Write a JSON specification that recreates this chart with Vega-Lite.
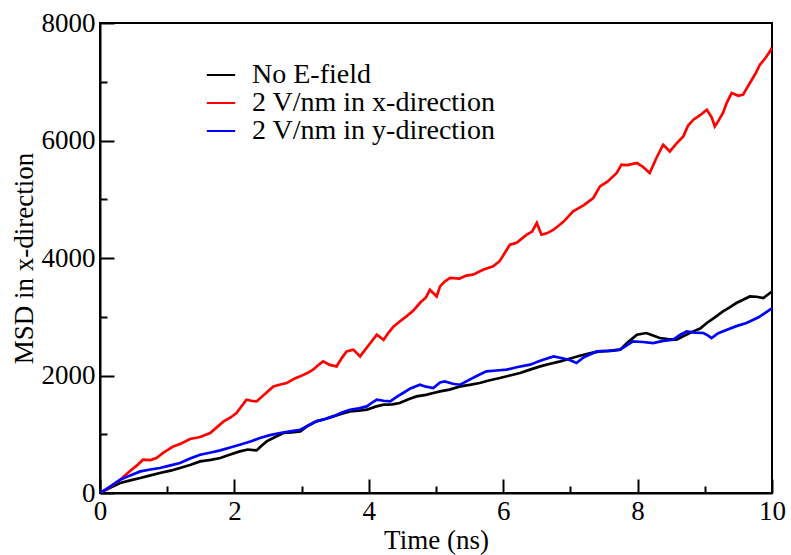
{
"$schema": "https://vega.github.io/schema/vega-lite/v6.json",
"width": 672, "height": 470,
"autosize": {"type": "none"},
"padding": {"left": 100, "top": 23, "right": 19, "bottom": 62},
"background": "white",
"config": {"view": {"stroke": "black", "strokeWidth": 2}},
"data": {"values": [
{"s":"No E-field","t":0,"v":0},{"s":"No E-field","t":0.15,"v":90},{"s":"No E-field","t":0.3,"v":170},{"s":"No E-field","t":0.45,"v":215},{"s":"No E-field","t":0.6,"v":255},{"s":"No E-field","t":0.75,"v":300},{"s":"No E-field","t":0.89,"v":340},{"s":"No E-field","t":1.05,"v":380},{"s":"No E-field","t":1.19,"v":425},{"s":"No E-field","t":1.35,"v":480},{"s":"No E-field","t":1.49,"v":538},{"s":"No E-field","t":1.65,"v":565},{"s":"No E-field","t":1.79,"v":595},{"s":"No E-field","t":1.95,"v":660},{"s":"No E-field","t":2.08,"v":708},{"s":"No E-field","t":2.2,"v":740},{"s":"No E-field","t":2.33,"v":725},{"s":"No E-field","t":2.4,"v":800},{"s":"No E-field","t":2.48,"v":878},{"s":"No E-field","t":2.6,"v":950},{"s":"No E-field","t":2.73,"v":1021},{"s":"No E-field","t":2.85,"v":1030},{"s":"No E-field","t":2.98,"v":1049},{"s":"No E-field","t":3.1,"v":1150},{"s":"No E-field","t":3.22,"v":1219},{"s":"No E-field","t":3.35,"v":1260},{"s":"No E-field","t":3.47,"v":1304},{"s":"No E-field","t":3.6,"v":1350},{"s":"No E-field","t":3.72,"v":1389},{"s":"No E-field","t":3.85,"v":1400},{"s":"No E-field","t":3.97,"v":1418},{"s":"No E-field","t":4.1,"v":1470},{"s":"No E-field","t":4.22,"v":1503},{"s":"No E-field","t":4.35,"v":1510},{"s":"No E-field","t":4.46,"v":1532},{"s":"No E-field","t":4.6,"v":1600},{"s":"No E-field","t":4.71,"v":1644},{"s":"No E-field","t":4.85,"v":1670},{"s":"No E-field","t":4.96,"v":1702},{"s":"No E-field","t":5.06,"v":1730},{"s":"No E-field","t":5.2,"v":1760},{"s":"No E-field","t":5.36,"v":1814},{"s":"No E-field","t":5.5,"v":1840},{"s":"No E-field","t":5.65,"v":1872},{"s":"No E-field","t":5.8,"v":1920},{"s":"No E-field","t":5.95,"v":1957},{"s":"No E-field","t":6.1,"v":2000},{"s":"No E-field","t":6.25,"v":2043},{"s":"No E-field","t":6.4,"v":2100},{"s":"No E-field","t":6.55,"v":2155},{"s":"No E-field","t":6.7,"v":2200},{"s":"No E-field","t":6.85,"v":2240},{"s":"No E-field","t":7.0,"v":2290},{"s":"No E-field","t":7.14,"v":2337},{"s":"No E-field","t":7.3,"v":2380},{"s":"No E-field","t":7.44,"v":2410},{"s":"No E-field","t":7.6,"v":2420},{"s":"No E-field","t":7.74,"v":2439},{"s":"No E-field","t":7.85,"v":2560},{"s":"No E-field","t":7.99,"v":2694},{"s":"No E-field","t":8.13,"v":2723},{"s":"No E-field","t":8.23,"v":2680},{"s":"No E-field","t":8.33,"v":2638},{"s":"No E-field","t":8.45,"v":2620},{"s":"No E-field","t":8.58,"v":2609},{"s":"No E-field","t":8.7,"v":2680},{"s":"No E-field","t":8.83,"v":2751},{"s":"No E-field","t":8.93,"v":2800},{"s":"No E-field","t":9.03,"v":2894},{"s":"No E-field","t":9.15,"v":2990},{"s":"No E-field","t":9.27,"v":3091},{"s":"No E-field","t":9.37,"v":3160},{"s":"No E-field","t":9.47,"v":3234},{"s":"No E-field","t":9.57,"v":3290},{"s":"No E-field","t":9.67,"v":3346},{"s":"No E-field","t":9.77,"v":3340},{"s":"No E-field","t":9.87,"v":3319},{"s":"No E-field","t":9.97,"v":3404},{"s":"No E-field","t":10,"v":3430},
{"s":"2 V/nm in x-direction","t":0,"v":0},{"s":"2 V/nm in x-direction","t":0.15,"v":100},{"s":"2 V/nm in x-direction","t":0.3,"v":226},{"s":"2 V/nm in x-direction","t":0.45,"v":380},{"s":"2 V/nm in x-direction","t":0.55,"v":470},{"s":"2 V/nm in x-direction","t":0.64,"v":567},{"s":"2 V/nm in x-direction","t":0.75,"v":560},{"s":"2 V/nm in x-direction","t":0.84,"v":595},{"s":"2 V/nm in x-direction","t":0.95,"v":690},{"s":"2 V/nm in x-direction","t":1.09,"v":793},{"s":"2 V/nm in x-direction","t":1.2,"v":840},{"s":"2 V/nm in x-direction","t":1.34,"v":919},{"s":"2 V/nm in x-direction","t":1.49,"v":953},{"s":"2 V/nm in x-direction","t":1.64,"v":1021},{"s":"2 V/nm in x-direction","t":1.75,"v":1130},{"s":"2 V/nm in x-direction","t":1.84,"v":1219},{"s":"2 V/nm in x-direction","t":1.95,"v":1290},{"s":"2 V/nm in x-direction","t":2.03,"v":1362},{"s":"2 V/nm in x-direction","t":2.18,"v":1588},{"s":"2 V/nm in x-direction","t":2.25,"v":1570},{"s":"2 V/nm in x-direction","t":2.33,"v":1559},{"s":"2 V/nm in x-direction","t":2.45,"v":1680},{"s":"2 V/nm in x-direction","t":2.58,"v":1814},{"s":"2 V/nm in x-direction","t":2.7,"v":1850},{"s":"2 V/nm in x-direction","t":2.78,"v":1872},{"s":"2 V/nm in x-direction","t":2.9,"v":1950},{"s":"2 V/nm in x-direction","t":2.98,"v":1985},{"s":"2 V/nm in x-direction","t":3.1,"v":2050},{"s":"2 V/nm in x-direction","t":3.17,"v":2099},{"s":"2 V/nm in x-direction","t":3.25,"v":2180},{"s":"2 V/nm in x-direction","t":3.32,"v":2240},{"s":"2 V/nm in x-direction","t":3.42,"v":2180},{"s":"2 V/nm in x-direction","t":3.52,"v":2155},{"s":"2 V/nm in x-direction","t":3.6,"v":2300},{"s":"2 V/nm in x-direction","t":3.67,"v":2410},{"s":"2 V/nm in x-direction","t":3.77,"v":2440},{"s":"2 V/nm in x-direction","t":3.87,"v":2325},{"s":"2 V/nm in x-direction","t":4.0,"v":2520},{"s":"2 V/nm in x-direction","t":4.12,"v":2694},{"s":"2 V/nm in x-direction","t":4.22,"v":2609},{"s":"2 V/nm in x-direction","t":4.3,"v":2740},{"s":"2 V/nm in x-direction","t":4.37,"v":2836},{"s":"2 V/nm in x-direction","t":4.46,"v":2920},{"s":"2 V/nm in x-direction","t":4.56,"v":3006},{"s":"2 V/nm in x-direction","t":4.66,"v":3100},{"s":"2 V/nm in x-direction","t":4.76,"v":3234},{"s":"2 V/nm in x-direction","t":4.85,"v":3330},{"s":"2 V/nm in x-direction","t":4.91,"v":3460},{"s":"2 V/nm in x-direction","t":5.01,"v":3346},{"s":"2 V/nm in x-direction","t":5.06,"v":3517},{"s":"2 V/nm in x-direction","t":5.13,"v":3600},{"s":"2 V/nm in x-direction","t":5.21,"v":3660},{"s":"2 V/nm in x-direction","t":5.35,"v":3650},{"s":"2 V/nm in x-direction","t":5.45,"v":3700},{"s":"2 V/nm in x-direction","t":5.55,"v":3716},{"s":"2 V/nm in x-direction","t":5.7,"v":3800},{"s":"2 V/nm in x-direction","t":5.85,"v":3857},{"s":"2 V/nm in x-direction","t":5.95,"v":3950},{"s":"2 V/nm in x-direction","t":6.02,"v":4080},{"s":"2 V/nm in x-direction","t":6.1,"v":4226},{"s":"2 V/nm in x-direction","t":6.2,"v":4260},{"s":"2 V/nm in x-direction","t":6.35,"v":4397},{"s":"2 V/nm in x-direction","t":6.43,"v":4450},{"s":"2 V/nm in x-direction","t":6.5,"v":4596},{"s":"2 V/nm in x-direction","t":6.57,"v":4397},{"s":"2 V/nm in x-direction","t":6.65,"v":4420},{"s":"2 V/nm in x-direction","t":6.75,"v":4482},{"s":"2 V/nm in x-direction","t":6.9,"v":4620},{"s":"2 V/nm in x-direction","t":7.04,"v":4793},{"s":"2 V/nm in x-direction","t":7.2,"v":4900},{"s":"2 V/nm in x-direction","t":7.34,"v":5021},{"s":"2 V/nm in x-direction","t":7.44,"v":5219},{"s":"2 V/nm in x-direction","t":7.55,"v":5300},{"s":"2 V/nm in x-direction","t":7.69,"v":5447},{"s":"2 V/nm in x-direction","t":7.76,"v":5588},{"s":"2 V/nm in x-direction","t":7.85,"v":5580},{"s":"2 V/nm in x-direction","t":7.99,"v":5617},{"s":"2 V/nm in x-direction","t":8.08,"v":5550},{"s":"2 V/nm in x-direction","t":8.18,"v":5447},{"s":"2 V/nm in x-direction","t":8.28,"v":5702},{"s":"2 V/nm in x-direction","t":8.38,"v":5928},{"s":"2 V/nm in x-direction","t":8.48,"v":5814},{"s":"2 V/nm in x-direction","t":8.58,"v":5950},{"s":"2 V/nm in x-direction","t":8.68,"v":6070},{"s":"2 V/nm in x-direction","t":8.75,"v":6250},{"s":"2 V/nm in x-direction","t":8.83,"v":6354},{"s":"2 V/nm in x-direction","t":8.93,"v":6430},{"s":"2 V/nm in x-direction","t":9.03,"v":6524},{"s":"2 V/nm in x-direction","t":9.1,"v":6400},{"s":"2 V/nm in x-direction","t":9.15,"v":6240},{"s":"2 V/nm in x-direction","t":9.2,"v":6330},{"s":"2 V/nm in x-direction","t":9.27,"v":6468},{"s":"2 V/nm in x-direction","t":9.33,"v":6650},{"s":"2 V/nm in x-direction","t":9.4,"v":6809},{"s":"2 V/nm in x-direction","t":9.5,"v":6760},{"s":"2 V/nm in x-direction","t":9.57,"v":6780},{"s":"2 V/nm in x-direction","t":9.63,"v":6900},{"s":"2 V/nm in x-direction","t":9.7,"v":7035},{"s":"2 V/nm in x-direction","t":9.76,"v":7150},{"s":"2 V/nm in x-direction","t":9.82,"v":7290},{"s":"2 V/nm in x-direction","t":9.9,"v":7400},{"s":"2 V/nm in x-direction","t":9.97,"v":7517},{"s":"2 V/nm in x-direction","t":10,"v":7580},
{"s":"2 V/nm in y-direction","t":0,"v":0},{"s":"2 V/nm in y-direction","t":0.15,"v":110},{"s":"2 V/nm in y-direction","t":0.3,"v":226},{"s":"2 V/nm in y-direction","t":0.45,"v":300},{"s":"2 V/nm in y-direction","t":0.6,"v":368},{"s":"2 V/nm in y-direction","t":0.75,"v":400},{"s":"2 V/nm in y-direction","t":0.89,"v":425},{"s":"2 V/nm in y-direction","t":1.05,"v":470},{"s":"2 V/nm in y-direction","t":1.19,"v":510},{"s":"2 V/nm in y-direction","t":1.35,"v":590},{"s":"2 V/nm in y-direction","t":1.49,"v":652},{"s":"2 V/nm in y-direction","t":1.65,"v":690},{"s":"2 V/nm in y-direction","t":1.79,"v":725},{"s":"2 V/nm in y-direction","t":1.95,"v":780},{"s":"2 V/nm in y-direction","t":2.08,"v":822},{"s":"2 V/nm in y-direction","t":2.25,"v":880},{"s":"2 V/nm in y-direction","t":2.38,"v":936},{"s":"2 V/nm in y-direction","t":2.53,"v":985},{"s":"2 V/nm in y-direction","t":2.68,"v":1021},{"s":"2 V/nm in y-direction","t":2.83,"v":1050},{"s":"2 V/nm in y-direction","t":2.98,"v":1077},{"s":"2 V/nm in y-direction","t":3.1,"v":1150},{"s":"2 V/nm in y-direction","t":3.22,"v":1219},{"s":"2 V/nm in y-direction","t":3.35,"v":1260},{"s":"2 V/nm in y-direction","t":3.47,"v":1304},{"s":"2 V/nm in y-direction","t":3.6,"v":1370},{"s":"2 V/nm in y-direction","t":3.72,"v":1418},{"s":"2 V/nm in y-direction","t":3.85,"v":1440},{"s":"2 V/nm in y-direction","t":3.97,"v":1474},{"s":"2 V/nm in y-direction","t":4.05,"v":1540},{"s":"2 V/nm in y-direction","t":4.12,"v":1588},{"s":"2 V/nm in y-direction","t":4.22,"v":1570},{"s":"2 V/nm in y-direction","t":4.32,"v":1559},{"s":"2 V/nm in y-direction","t":4.42,"v":1640},{"s":"2 V/nm in y-direction","t":4.51,"v":1702},{"s":"2 V/nm in y-direction","t":4.62,"v":1780},{"s":"2 V/nm in y-direction","t":4.76,"v":1843},{"s":"2 V/nm in y-direction","t":4.85,"v":1810},{"s":"2 V/nm in y-direction","t":4.96,"v":1787},{"s":"2 V/nm in y-direction","t":5.06,"v":1880},{"s":"2 V/nm in y-direction","t":5.13,"v":1900},{"s":"2 V/nm in y-direction","t":5.25,"v":1860},{"s":"2 V/nm in y-direction","t":5.36,"v":1843},{"s":"2 V/nm in y-direction","t":5.5,"v":1930},{"s":"2 V/nm in y-direction","t":5.62,"v":2000},{"s":"2 V/nm in y-direction","t":5.75,"v":2070},{"s":"2 V/nm in y-direction","t":5.9,"v":2085},{"s":"2 V/nm in y-direction","t":6.05,"v":2099},{"s":"2 V/nm in y-direction","t":6.2,"v":2140},{"s":"2 V/nm in y-direction","t":6.4,"v":2184},{"s":"2 V/nm in y-direction","t":6.55,"v":2250},{"s":"2 V/nm in y-direction","t":6.75,"v":2325},{"s":"2 V/nm in y-direction","t":6.9,"v":2290},{"s":"2 V/nm in y-direction","t":7.0,"v":2260},{"s":"2 V/nm in y-direction","t":7.09,"v":2213},{"s":"2 V/nm in y-direction","t":7.2,"v":2310},{"s":"2 V/nm in y-direction","t":7.39,"v":2410},{"s":"2 V/nm in y-direction","t":7.55,"v":2420},{"s":"2 V/nm in y-direction","t":7.74,"v":2439},{"s":"2 V/nm in y-direction","t":7.85,"v":2520},{"s":"2 V/nm in y-direction","t":7.93,"v":2581},{"s":"2 V/nm in y-direction","t":8.08,"v":2570},{"s":"2 V/nm in y-direction","t":8.23,"v":2553},{"s":"2 V/nm in y-direction","t":8.38,"v":2590},{"s":"2 V/nm in y-direction","t":8.53,"v":2609},{"s":"2 V/nm in y-direction","t":8.63,"v":2690},{"s":"2 V/nm in y-direction","t":8.73,"v":2751},{"s":"2 V/nm in y-direction","t":8.85,"v":2730},{"s":"2 V/nm in y-direction","t":8.98,"v":2723},{"s":"2 V/nm in y-direction","t":9.05,"v":2680},{"s":"2 V/nm in y-direction","t":9.1,"v":2638},{"s":"2 V/nm in y-direction","t":9.2,"v":2720},{"s":"2 V/nm in y-direction","t":9.33,"v":2780},{"s":"2 V/nm in y-direction","t":9.47,"v":2840},{"s":"2 V/nm in y-direction","t":9.62,"v":2894},{"s":"2 V/nm in y-direction","t":9.8,"v":2990},{"s":"2 V/nm in y-direction","t":9.97,"v":3120},{"s":"2 V/nm in y-direction","t":10,"v":3140}
]},
"layer": [
{"mark": {"type": "line", "strokeWidth": 2.7, "clip": true},
 "encoding": {
  "x": {"field": "t", "type": "quantitative", "scale": {"domain": [0, 10], "nice": false},
   "axis": {"values": [0,2,4,6,8,10], "format": "d", "tickSize": -14, "tickWidth": 2, "tickColor": "black", "domainColor": "black", "domainWidth": 2, "grid": false,
     "labelFont": "Liberation Serif", "labelFontSize": 27, "labelColor": "black", "labelPadding": 19, "labelFlush": false, "labelOverlap": false,
     "title": "Time (ns)", "titleFont": "Liberation Serif", "titleFontSize": 27, "titleFontWeight": "normal", "titleColor": "black", "titleBaseline": "alphabetic", "titleY": 55}},
  "y": {"field": "v", "type": "quantitative", "scale": {"domain": [0, 8000], "nice": false},
   "axis": {"values": [0,2000,4000,6000,8000], "format": "d", "tickSize": -14, "tickWidth": 2, "tickColor": "black", "domainColor": "black", "domainWidth": 2, "grid": false,
     "labelFont": "Liberation Serif", "labelFontSize": 27, "labelColor": "black", "labelPadding": 19, "labelFlush": false, "labelOverlap": false,
     "title": "MSD in x-direction", "titleFont": "Liberation Serif", "titleFontSize": 27, "titleFontWeight": "normal", "titleColor": "black", "titleBaseline": "alphabetic", "titleX": -68}},
  "color": {"field": "s", "type": "nominal",
   "scale": {"domain": ["No E-field", "2 V/nm in x-direction", "2 V/nm in y-direction"], "range": ["#000000", "#ff0000", "#0000ff"]},
   "legend": {"title": null, "orient": "none", "legendX": 107, "legendY": 38, "padding": 0, "rowPadding": 0,
     "labelFont": "Liberation Serif", "labelFontSize": 28, "labelColor": "black", "labelOffset": 17, "labelLimit": 0,
     "symbolType": "M-2,0H2", "symbolSize": 200, "symbolStrokeWidth": 2}}
 }},
{"mark": {"type": "line", "strokeOpacity": 0},
 "encoding": {
  "x": {"field": "t", "type": "quantitative", "scale": {"domain": [0, 10], "nice": false},
   "axis": {"orient": "bottom", "values": [1,3,5,7,9], "tickSize": -7, "tickWidth": 2, "tickColor": "black", "domain": false, "labels": false, "grid": false, "title": null}},
  "y": {"field": "v", "type": "quantitative", "scale": {"domain": [0, 8000], "nice": false},
   "axis": {"orient": "left", "values": [1000,3000,5000,7000], "tickSize": -7, "tickWidth": 2, "tickColor": "black", "domain": false, "labels": false, "grid": false, "title": null}},
  "detail": {"field": "s", "type": "nominal"}
 }}
],
"resolve": {"scale": {"x": "independent", "y": "independent"}}
}
